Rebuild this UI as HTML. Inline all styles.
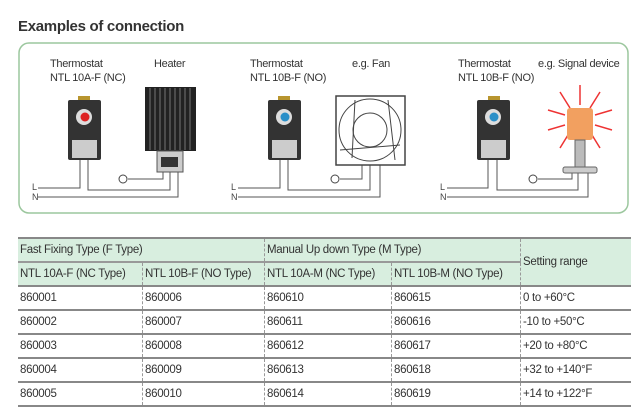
<!DOCTYPE html>
<html><head><meta charset="utf-8"><style>
body{margin:0;background:#fff;width:640px;height:407px;overflow:hidden;font-family:"Liberation Sans",sans-serif;}
.t{position:absolute;font-size:11px;color:#333;letter-spacing:-0.3px}
table{position:absolute;left:18px;top:237px;width:613px;border-collapse:collapse;font-size:11.5px;color:#333;letter-spacing:-0.3px;border-top:2px solid #888}
td{padding:0 2px;border-bottom:2px solid #888;height:22px}
td+td{border-left:1px dashed #999}
.h td{background:#d8eedf}
</style></head><body>
<div class="t" style="left:18px;top:18px;font-size:15px;font-weight:bold;color:#333">Examples of connection</div>
<svg width="640" height="230" style="position:absolute;left:0;top:0">
<rect x="19" y="43" width="609" height="170" rx="10" fill="#fff" stroke="#9cc79e" stroke-width="1.5"/>
<g fill="none" stroke="#555" stroke-width="1">
<path d="M38 188H80V160M38 197H178V172M88 160V190H170V172M128 179H163V172"/>
<path d="M238 188H280V160M238 197H380V165M288 160V190H370V165M340 179H362V165"/>
<path d="M447 188H488V160M447 197H588V172M497 160V190H578V172M538 179H572V172"/>
</g>
<g fill="#fff" stroke="#444"><circle cx="123" cy="179" r="4"/><circle cx="335" cy="179" r="4"/><circle cx="533" cy="179" r="4"/></g>
<rect x="78" y="96" width="12" height="5" fill="#b8952e"/>
<rect x="68" y="100" width="33" height="60" rx="2" fill="#333"/>
<circle cx="84" cy="117" r="8" fill="#ddd"/>
<rect x="72" y="140" width="25" height="18" fill="#ccc"/>
<circle cx="85" cy="117" r="4.5" fill="#d22"/>
<rect x="278" y="96" width="12" height="5" fill="#b8952e"/>
<rect x="268" y="100" width="33" height="60" rx="2" fill="#333"/>
<circle cx="284" cy="117" r="8" fill="#ddd"/><circle cx="285" cy="117" r="4.5" fill="#2a8fc8"/>
<rect x="272" y="140" width="25" height="18" fill="#ccc"/>
<rect x="488" y="96" width="12" height="5" fill="#b8952e"/>
<rect x="477" y="100" width="33" height="60" rx="2" fill="#333"/>
<circle cx="493" cy="117" r="8" fill="#ddd"/><circle cx="494" cy="117" r="4.5" fill="#2a8fc8"/>
<rect x="481" y="140" width="25" height="18" fill="#ccc"/>
<rect x="145" y="87" width="51" height="64" fill="#222"/>
<g stroke="#777" stroke-width="1"><path d="M150 88V150M155 88V150M160 88V150M165 88V150M170 88V150M175 88V150M180 88V150M185 88V150M190 88V150"/></g>
<rect x="157" y="151" width="26" height="21" fill="#ccc" stroke="#555"/>
<rect x="161" y="157" width="17" height="10" fill="#333"/>
<rect x="336" y="96" width="69" height="69" fill="#fff" stroke="#444" stroke-width="1.5"/>
<circle cx="370" cy="130" r="31" fill="none" stroke="#444"/>
<circle cx="370" cy="130" r="17" fill="none" stroke="#444"/>
<path d="M355 100L352 158M340 150L400 145M388 100L395 160" stroke="#444" fill="none"/>
<g stroke="#e33" stroke-width="1.5">
<path d="M580 85V105M560 92L570 108M600 92L590 108M548 110L565 115M612 110L595 115M548 130L565 125M612 130L595 125M560 148L568 135M600 148L592 135"/></g>
<rect x="567" y="108" width="26" height="32" rx="3" fill="#f2a060"/>
<rect x="575" y="140" width="10" height="28" fill="#bbb" stroke="#666"/>
<rect x="563" y="167" width="34" height="6" rx="2" fill="#ccc" stroke="#666"/>
<g font-size="9" fill="#444" font-family="Liberation Sans"><text x="32" y="190">L</text><text x="32" y="200">N</text><text x="231" y="190">L</text><text x="231" y="200">N</text><text x="440" y="190">L</text><text x="440" y="200">N</text></g>
</svg>
<div class="t" style="left:50px;top:58px">Thermostat</div>
<div class="t" style="left:50px;top:72px">NTL 10A-F (NC)</div>
<div class="t" style="left:154px;top:58px">Heater</div>
<div class="t" style="left:250px;top:58px">Thermostat</div>
<div class="t" style="left:250px;top:72px">NTL 10B-F (NO)</div>
<div class="t" style="left:352px;top:58px">e.g. Fan</div>
<div class="t" style="left:458px;top:58px">Thermostat</div>
<div class="t" style="left:458px;top:72px">NTL 10B-F (NO)</div>
<div class="t" style="left:538px;top:58px">e.g. Signal device</div>
<table>
<tr class="h"><td colspan="2" style="border-bottom:2px solid #999">Fast Fixing Type (F Type)</td><td colspan="2" style="border-bottom:2px solid #999">Manual Up down Type (M Type)</td><td rowspan="2">Setting range</td></tr>
<tr class="h"><td style="width:120px">NTL 10A-F (NC Type)</td><td style="width:117px">NTL 10B-F (NO Type)</td><td style="width:122px">NTL 10A-M (NC Type)</td><td style="width:124px">NTL 10B-M (NO Type)</td></tr>
<tr><td>860001</td><td>860006</td><td>860610</td><td>860615</td><td>0 to +60°C</td></tr>
<tr><td>860002</td><td>860007</td><td>860611</td><td>860616</td><td>-10 to +50°C</td></tr>
<tr><td>860003</td><td>860008</td><td>860612</td><td>860617</td><td>+20 to +80°C</td></tr>
<tr><td>860004</td><td>860009</td><td>860613</td><td>860618</td><td>+32 to +140°F</td></tr>
<tr><td>860005</td><td>860010</td><td>860614</td><td>860619</td><td>+14 to +122°F</td></tr>
</table>
</body></html>
